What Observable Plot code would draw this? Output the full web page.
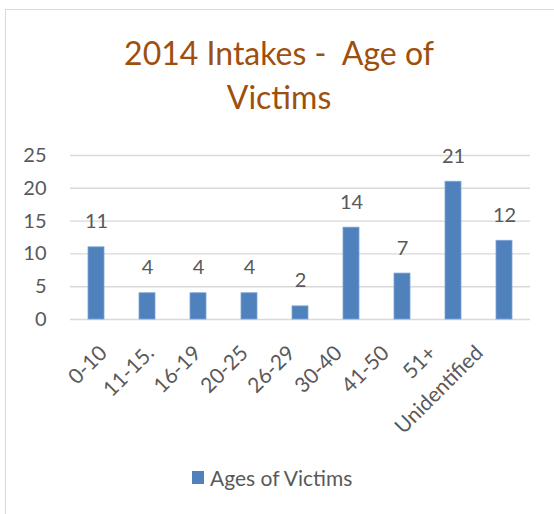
<!DOCTYPE html>
<html>
<head>
<meta charset="utf-8">
<script src="https://cdn.jsdelivr.net/npm/d3@7"></script>
<script src="https://cdn.jsdelivr.net/npm/@observablehq/plot@0.6"></script>
<style>
  html, body { margin: 0; padding: 0; background: #fff; }
  body { width: 554px; height: 514px; position: relative; overflow: hidden; font-family: Lato, "Open Sans", sans-serif; }
  .frame { position: absolute; left: 5px; top: 9px; width: 620px; height: 620px; border: 1.5px solid #d9d9d9; box-sizing: border-box; }
  .title { position: absolute; left: 0; width: 558px; top: 31px; text-align: center; color: #9E4F0E; font-size: 32px; line-height: 44px; white-space: pre; }
  #chart { position: absolute; left: 0; top: 140px; }
  #labels { position: absolute; left: 0; top: 320px; }
  #labels svg { overflow: visible; }
  .legend { position: absolute; left: 192px; top: 465px; display: flex; align-items: center; color: #595959; font-size: 21px; }
  .legend .sw { width: 12px; height: 13px; background: #4F81BD; margin-right: 6px; }
</style>
</head>
<body>
<div class="frame"></div>
<div class="title">2014 Intakes -  Age of
Victims</div>
<div id="chart"></div>
<div id="labels"></div>
<div class="legend"><span class="sw"></span><span id="legendText"></span></div>
<script>
const categories = ["0-10", "11-15.", "16-19", "20-25", "26-29", "30-40", "41-50", "51+", "Unidentified"];
const values = [11, 4, 4, 4, 2, 14, 7, 21, 12];
const yTicks = [0, 5, 10, 15, 20, 25];
const seriesName = "Ages of Victims";

const data = categories.map((c, i) => ({cat: c, value: values[i]}));
const textColor = "#595959";

const chart = Plot.plot({
  width: 554,
  height: 190,
  marginTop: 15,
  marginBottom: 11,
  marginLeft: 70,
  marginRight: 24,
  style: {fontFamily: "Lato, 'Open Sans', sans-serif", background: "transparent"},
  x: {domain: categories, paddingInner: 0.69, paddingOuter: 0.345, axis: null},
  y: {domain: [0, 25]},
  marks: [
    Plot.gridY(yTicks, {stroke: "#d9d9d9", strokeOpacity: 1, strokeWidth: 1.4}),
    Plot.axisY(yTicks, {tickSize: 0, tickPadding: 24, fontSize: 20, fill: textColor, label: null}),
    Plot.barY(data, {x: "cat", y: "value", fill: "#4F81BD", stroke: "#7FA3D3", strokeWidth: 0.8}),
    Plot.text(data, {x: "cat", y: "value", text: d => String(d.value), dy: -19, lineAnchor: "bottom", fontSize: 20, fill: textColor})
  ]
});
document.getElementById("chart").appendChild(chart);

const labels = Plot.plot({
  width: 554,
  height: 120,
  marginTop: 29,
  marginBottom: 0,
  marginLeft: 101,
  marginRight: 74,
  style: {fontFamily: "Lato, 'Open Sans', sans-serif", background: "transparent", overflow: "visible"},
  x: {type: "point", domain: categories, padding: 0, axis: null},
  marks: [
    Plot.text(categories, {x: d => d, frameAnchor: "top", rotate: -45, textAnchor: "end", lineAnchor: "middle", fontSize: 21, fill: textColor})
  ]
});
document.getElementById("labels").appendChild(labels);
document.getElementById("legendText").textContent = seriesName;
</script>
</body>
</html>
